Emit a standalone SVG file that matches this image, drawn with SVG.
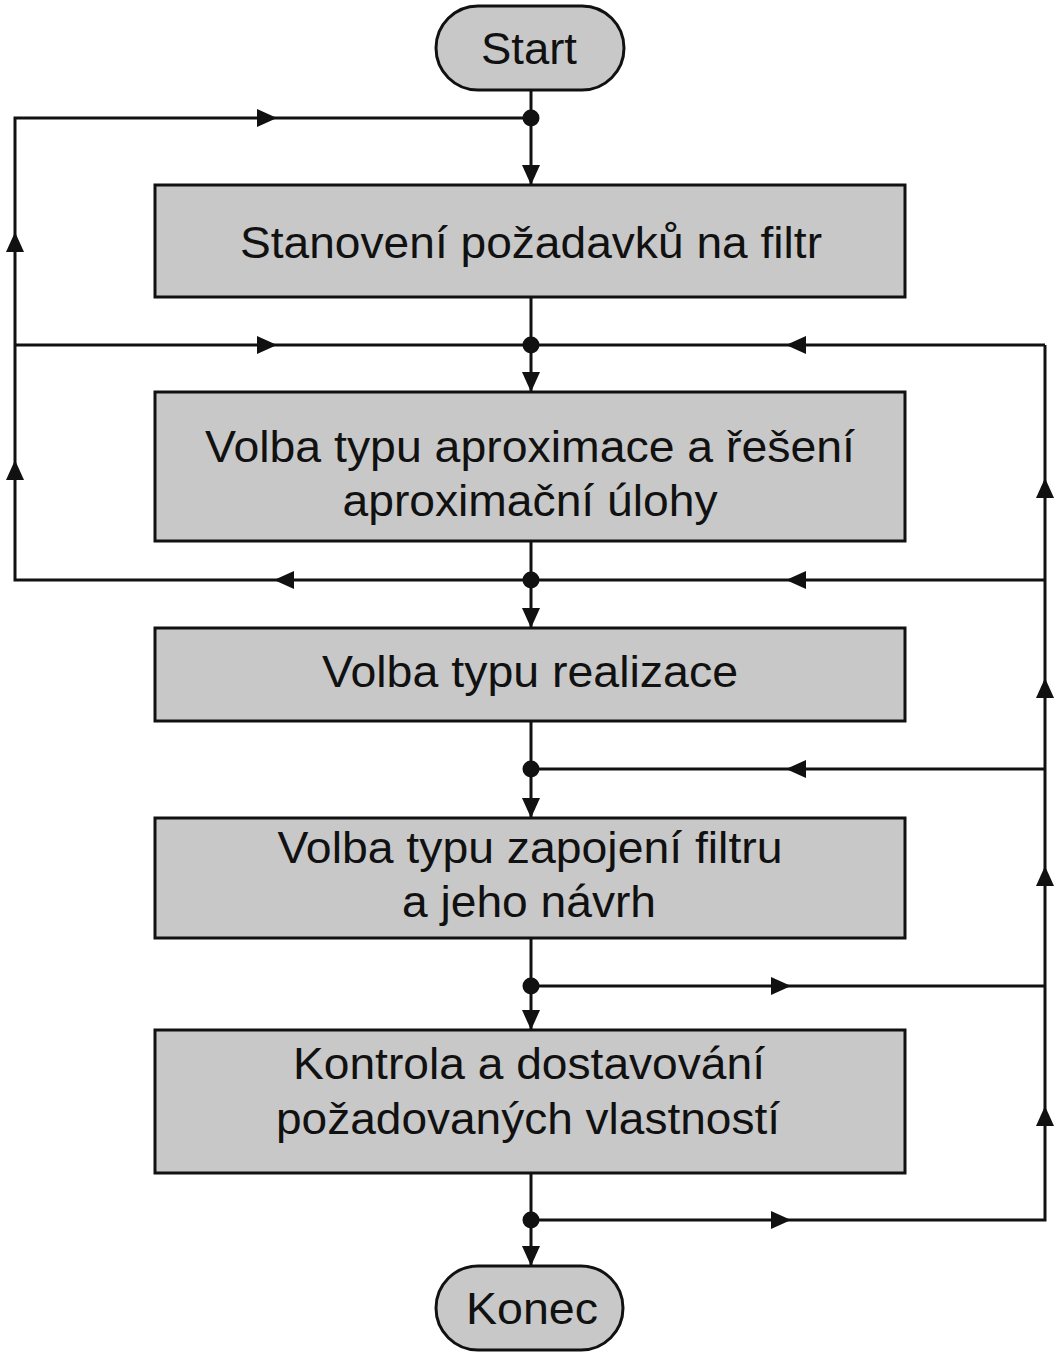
<svg xmlns="http://www.w3.org/2000/svg" xmlns:xlink="http://www.w3.org/1999/xlink" width="1062" height="1355" viewBox="0 0 1062 1355">
<style>
.box{fill:#c8c8c8;stroke:#111;stroke-width:3}
.lbl{font-family:"Liberation Sans",Arial,sans-serif;font-size:45px;fill:#111;text-anchor:middle}
.ln{fill:none;stroke:#111;stroke-width:3}
.dot{fill:#111}
.ah{fill:#111}
</style>
<defs>
<path id="ah" d="M0,0 L-20,-9 L-20,9 Z"/>
</defs>
<rect width="1062" height="1355" fill="#fff"/>
<g id="connectors">
<path class="ln" d="M531,90 V185 M531,297 V392 M531,541 V628 M531,721 V818 M531,938 V1030 M531,1173 V1266"/>
<path class="ln" d="M531,118 H15 V580 H531 M15,345 H1045 M531,580 H1045 M1045,345 V1220 H531 M531,769 H1045 M531,986 H1045"/>
<g class="ah">
<use xlink:href="#ah" transform="translate(531,185) rotate(90)"/>
<use xlink:href="#ah" transform="translate(531,392) rotate(90)"/>
<use xlink:href="#ah" transform="translate(531,628) rotate(90)"/>
<use xlink:href="#ah" transform="translate(531,818) rotate(90)"/>
<use xlink:href="#ah" transform="translate(531,1030) rotate(90)"/>
<use xlink:href="#ah" transform="translate(531,1266) rotate(90)"/>
<use xlink:href="#ah" transform="translate(277,118)"/>
<use xlink:href="#ah" transform="translate(277,345)"/>
<use xlink:href="#ah" transform="translate(274,580) rotate(180)"/>
<use xlink:href="#ah" transform="translate(15,232) rotate(-90)"/>
<use xlink:href="#ah" transform="translate(15,460) rotate(-90)"/>
<use xlink:href="#ah" transform="translate(786,345) rotate(180)"/>
<use xlink:href="#ah" transform="translate(786,580) rotate(180)"/>
<use xlink:href="#ah" transform="translate(786,769) rotate(180)"/>
<use xlink:href="#ah" transform="translate(791,986)"/>
<use xlink:href="#ah" transform="translate(791,1220)"/>
<use xlink:href="#ah" transform="translate(1045,478) rotate(-90)"/>
<use xlink:href="#ah" transform="translate(1045,678) rotate(-90)"/>
<use xlink:href="#ah" transform="translate(1045,866) rotate(-90)"/>
<use xlink:href="#ah" transform="translate(1045,1106) rotate(-90)"/>
</g>
<g class="dot">
<circle cx="531" cy="118" r="8.5"/>
<circle cx="531" cy="345" r="8.5"/>
<circle cx="531" cy="580" r="8.5"/>
<circle cx="531" cy="769" r="8.5"/>
<circle cx="531" cy="986" r="8.5"/>
<circle cx="531" cy="1220" r="8.5"/>
</g>
</g>
<g id="start">
<rect class="box" x="436" y="6" width="188" height="84" rx="42"/>
<text class="lbl" x="529" y="64" textLength="96" lengthAdjust="spacingAndGlyphs">Start</text>
</g>
<g id="n1">
<rect class="box" x="155" y="185" width="750" height="112"/>
<text class="lbl" x="531" y="258" textLength="582" lengthAdjust="spacingAndGlyphs">Stanovení požadavků na filtr</text>
</g>
<g id="n2">
<rect class="box" x="155" y="392" width="750" height="149"/>
<text class="lbl" x="530" y="462" textLength="650" lengthAdjust="spacingAndGlyphs">Volba typu aproximace a řešení</text>
<text class="lbl" x="530" y="516" textLength="375" lengthAdjust="spacingAndGlyphs">aproximační úlohy</text>
</g>
<g id="n3">
<rect class="box" x="155" y="628" width="750" height="93"/>
<text class="lbl" x="530" y="687" textLength="416" lengthAdjust="spacingAndGlyphs">Volba typu realizace</text>
</g>
<g id="n4">
<rect class="box" x="155" y="818" width="750" height="120"/>
<text class="lbl" x="530" y="863" textLength="505" lengthAdjust="spacingAndGlyphs">Volba typu zapojení filtru</text>
<text class="lbl" x="529" y="917" textLength="254" lengthAdjust="spacingAndGlyphs">a jeho návrh</text>
</g>
<g id="n5">
<rect class="box" x="155" y="1030" width="750" height="143"/>
<text class="lbl" x="529" y="1079" textLength="472" lengthAdjust="spacingAndGlyphs">Kontrola a dostavování</text>
<text class="lbl" x="528" y="1134" textLength="504" lengthAdjust="spacingAndGlyphs">požadovaných vlastností</text>
</g>
<g id="end">
<rect class="box" x="436" y="1266" width="187" height="84" rx="42"/>
<text class="lbl" x="532" y="1324" textLength="132" lengthAdjust="spacingAndGlyphs">Konec</text>
</g>
</svg>
